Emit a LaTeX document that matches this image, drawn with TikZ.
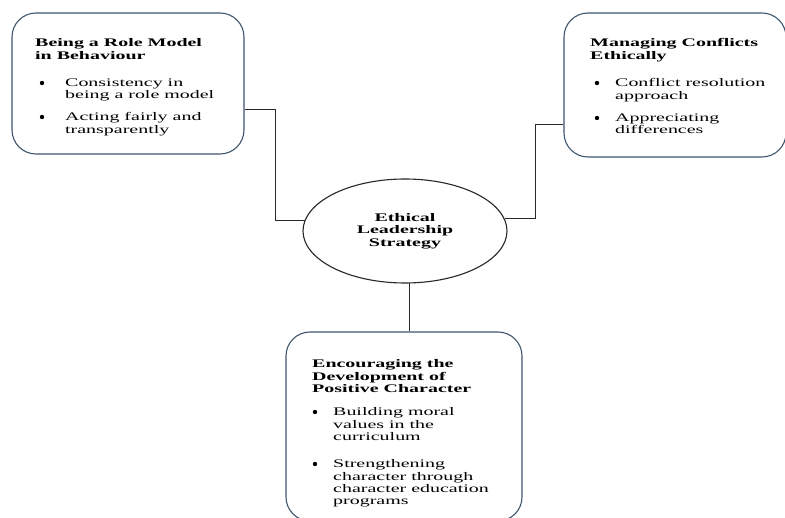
\documentclass[tikz,border=0pt]{standalone}
\usepackage{fontspec}
\setmainfont{Liberation Serif}[FakeStretch=1.72]
\usetikzlibrary{shapes.geometric}
\definecolor{boxline}{RGB}{62,86,108}
\definecolor{conn}{RGB}{40,40,40}
\newcommand\diagfont{\fontsize{11.6}{12.4}\selectfont}
\begin{document}
\begin{tikzpicture}[x=1pt,y=-1pt,
  card/.style={draw=boxline, line width=1.1pt, rounded corners=24pt, inner sep=0pt},
  hub/.style={draw=conn, line width=1.1pt, ellipse, minimum width=204pt, minimum height=104pt, inner sep=0pt, align=center, font=\diagfont\bfseries},
  txt/.style={inner sep=0pt, align=left, anchor=north west, font=\diagfont},
  ttl/.style={txt, font=\diagfont\bfseries},
  bul/.style={circle, fill=black, inner sep=0pt, minimum size=4.4pt},
  link/.style={draw=conn, line width=0.9pt}]
\fill[white] (0,0) rectangle (785,518);
\useasboundingbox (0,0) rectangle (785,518);

% boxes
\node[card, minimum width=232pt, minimum height=141pt] (b1) at (128,83.5) {};
\node[card, minimum width=222pt, minimum height=144pt] (b2) at (675,85) {};
\node[card, minimum width=236pt, minimum height=189pt] (b3) at (404,426.5) {};
\node[hub] (el) at (405,231) {Ethical\\Leadership\\Strategy};

% connectors
\draw[link] ([yshift=-25.5pt]b1.east) -- ++(31,0) |- (el.174);
\draw[link] ([yshift=-39pt]b2.west) -- ++(-28,0) |- (el.7);
\draw[link] (el.275) -- (el.275 |- b3.north);

% box 1 text
\node[ttl] (t1) at (35,38.5) {Being a Role Model\\in Behaviour};
\node[bul] (d1a) at (42,83) {};
\node[txt] (t1a) at (65,78.5) {Consistency in\\being a role model};
\node[bul] (d1b) at (42,117) {};
\node[txt] (t1b) at (65,112.5) {Acting fairly and\\transparently};

% box 2 text
\node[ttl] (t2) at (590,38.5) {Managing Conflicts\\Ethically};
\node[bul] (d2a) at (597,83) {};
\node[txt] (t2a) at (615,78.5) {Conflict resolution\\approach};
\node[bul] (d2b) at (597,118) {};
\node[txt] (t2b) at (615,113.5) {Appreciating\\differences};

% box 3 text
\node[ttl] (t3) at (312,359.5) {Encouraging the\\Development of\\Positive Character};
\node[bul] (d3a) at (315,412) {};
\node[txt] (t3a) at (333,407.5) {Building moral\\values in the\\curriculum};
\node[bul] (d3b) at (315,464) {};
\node[txt] (t3b) at (333,459.5) {Strengthening\\character through\\character education\\programs};
\end{tikzpicture}
\end{document}
